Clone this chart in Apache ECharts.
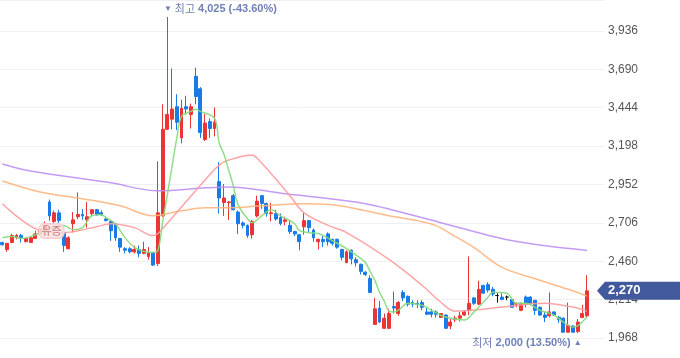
<!DOCTYPE html>
<html><head><meta charset="utf-8">
<script src="https://cdn.jsdelivr.net/npm/echarts@6/dist/echarts.min.js"></script>
<style>html,body{margin:0;padding:0;background:#fff}#c{width:680px;height:358px}</style>
</head><body><div id="c"></div>
<script>
// ---- data ----
const yTicks = [1968, 2214, 2460, 2706, 2952, 3198, 3444, 3690, 3936];
// [open, close, low, high]
const ohlc = [
[2580,2565,2560,2585],[2535,2575,2520,2575],[2580,2625,2575,2635],[2610,2625,2600,2635],[2625,2610,2580,2635],
[2585,2605,2580,2610],[2580,2610,2580,2620],[2605,2635,2605,2655],[2635,2665,2625,2680],[2660,2700,2650,2715],
[2840,2750,2720,2855],[2715,2770,2705,2785],[2770,2720,2705,2790],[2645,2560,2520,2655],[2540,2610,2535,2620],
[2700,2725,2645,2775],[2745,2760,2730,2900],[2760,2750,2725,2795],[2725,2745,2675,2840],[2765,2790,2750,2795],
[2790,2760,2750,2795],[2770,2760,2750,2785],[2730,2720,2715,2740],[2715,2655,2590,2725],[2700,2610,2590,2705],
[2605,2550,2520,2610],[2540,2530,2510,2550],[2540,2520,2510,2550],[2520,2535,2510,2560],[2535,2510,2485,2560],
[2510,2535,2505,2585],[2490,2515,2470,2550],[2515,2435,2430,2520],[2445,2770,2430,3100],[2750,3305,2745,3465],
[3305,3400,3300,4025],[3370,3435,3305,3695],[3450,3350,3300,3530],[3250,3440,3215,3495],[3450,3435,3400,3520],
[3400,3450,3310,3470],[3645,3515,3465,3700],[3565,3285,3250,3575],[3240,3345,3230,3405],[3355,3310,3250,3375],
[3310,3350,3260,3445],[2970,2865,2765,3095],[2835,2865,2750,2955],[2835,2840,2725,2845],[2880,2790,2785,2890],
[2775,2700,2635,2785],[2705,2690,2670,2715],[2690,2625,2610,2695],[2630,2715,2605,2725],[2750,2845,2740,2880],
[2880,2830,2795,2885],[2830,2765,2745,2835],[2765,2770,2715,2835],[2765,2730,2720,2790],[2740,2700,2690,2765],
[2715,2725,2690,2745],[2690,2650,2635,2720],[2650,2635,2620,2655],[2630,2585,2530,2635],[2680,2720,2630,2770],
[2720,2675,2645,2725],[2660,2610,2585,2670],[2585,2600,2535,2605],[2600,2585,2550,2620],[2635,2585,2560,2645],
[2600,2575,2560,2605],[2600,2550,2540,2605],[2535,2485,2465,2540],[2450,2520,2450,2530],[2530,2475,2440,2535],
[2470,2450,2425,2485],[2440,2395,2375,2445],[2390,2375,2365,2395],[2350,2260,2255,2370],[2055,2155,2055,2225],
[2160,2070,2065,2205],[2030,2095,2025,2125],[2030,2125,2025,2155],[2170,2160,2125,2265],[2125,2195,2110,2205],
[2260,2225,2205,2275],[2235,2185,2170,2240],[2195,2185,2165,2210],[2190,2185,2160,2210],[2195,2165,2145,2210],
[2135,2120,2115,2160],[2135,2120,2100,2155],[2135,2120,2100,2145],[2100,2125,2100,2125],[2115,2030,2025,2120],
[2045,2070,2025,2090],[2085,2095,2070,2110],[2095,2110,2075,2135],[2115,2135,2110,2145],[2145,2190,2115,2490],
[2225,2190,2180,2230],[2185,2280,2180,2335],[2305,2255,2255,2305],[2310,2275,2260,2325],[2280,2250,2235,2295],
[2240,2240,2195,2255],[2230,2215,2210,2255],[2230,2230,2210,2240],[2215,2165,2160,2215],[2185,2190,2165,2195],
[2145,2190,2140,2195],[2230,2185,2165,2240],[2230,2190,2180,2235],[2210,2145,2115,2210],[2165,2115,2110,2170],
[2115,2100,2070,2135],[2110,2135,2100,2260],[2135,2115,2110,2140],[2100,2085,2065,2110],[2095,2005,2005,2100],
[2005,2050,2005,2195],[2045,2005,2005,2050],[2010,2070,2000,2090],[2100,2125,2095,2180],[2110,2270,2100,2370]
];
// moving averages: [day index, value]
const ma5 = [[0,2611],[2,2618],[4,2605],[7,2630],[10,2669],[13,2688],[15,2662],[17,2675],[19,2751],[21,2758],[22,2739],
[24,2700],[26,2611],[28,2548],[30,2522],[32,2516],[33,2528],[34,2713],[35,2885],[36,3070],[37,3248],[38,3388],[40,3420],
[41,3433],[42,3420],[45,3375],[46,3216],[47,3146],[48,3044],[49,2942],[50,2821],[52,2732],[53,2707],[55,2751],[57,2790],
[59,2751],[62,2700],[63,2656],[65,2643],[67,2637],[70,2592],[73,2541],[76,2478],[77,2452],[78,2395],[79,2337],[80,2261],
[81,2204],[82,2140],[83,2134],[84,2146],[86,2191],[89,2178],[91,2146],[94,2102],[98,2083],[100,2134],[103,2229],[104,2261],
[107,2255],[109,2191],[111,2191],[114,2146],[117,2115],[119,2070],[121,2038],[122,2045],[124,2102]];
const ma20 = [[0,2828],[8,2656],[13,2643],[20,2681],[23,2700],[28,2675],[32,2624],[33,2637],[34,2669],[38,2808],[43,2981],
[46,3076],[48,3108],[53,3140],[54,3121],[58,2987],[61,2879],[64,2770],[69,2691],[73,2643],[82,2471],[89,2306],[93,2197],
[96,2140],[100,2147],[106,2166],[115,2191],[121,2166],[124,2140]];
const ma60 = [[0,2974],[8,2904],[17,2860],[25,2815],[32,2751],[34,2758],[38,2783],[43,2802],[48,2802],[55,2815],[64,2828],
[70,2821],[74,2802],[82,2751],[88,2720],[92,2688],[95,2637],[100,2548],[106,2420],[114,2338],[120,2280],[124,2236]];
const ma120 = [[0,3083],[6,3038],[23,2962],[33,2911],[43,2930],[48,2936],[60,2892],[64,2879],[77,2828],[93,2707],[108,2592],[124,2529]];
const eventIdx = 10, eventText = '유증';
const tailSlots = ['E1', 'E2', 'E3'];
const categories = ohlc.map((_, i) => 'D' + (i + 1)).concat(tailSlots);

// ---- derived ----
const highs = ohlc.map(d => d[3]), lows = ohlc.map(d => d[2]);
const hiVal = Math.max(...highs), hiIdx = highs.indexOf(hiVal);
const loVal = Math.min(...lows), loIdx = lows.indexOf(loVal);
const lastClose = ohlc[ohlc.length - 1][1];
const fmt = v => v.toLocaleString('en-US');
const pct = (a, b) => ((a - b) / b * 100).toFixed(2);
const hiText = fmt(hiVal) + ' (' + pct(lastClose, hiVal) + '%)';
const loText = fmt(loVal) + ' (' + pct(lastClose, loVal) + '%)';

const UP = '#ec3434', DOWN = '#1b7be6', LBL = '#6f80b6';
const KR = '"Noto Sans CJK KR", "Noto Sans", sans-serif';
const NUM = '"Liberation Sans", Arial, sans-serif';
const richLbl = {
  a: { fontSize: 8, color: LBL, fontFamily: NUM },
  t: { fontSize: 11, color: LBL, fontFamily: KR },
  b: { fontSize: 11, color: LBL, fontWeight: 'bold', fontFamily: NUM },
  s: { fontSize: 11, width: 3 }
};

const chart = echarts.init(document.getElementById('c'));
function maSeries(data, color) {
  return { type: 'line', data, smooth: 0.35, symbol: 'none', silent: true, z: 3,
    lineStyle: { color, width: 1.5, opacity: 0.9 } };
}
chart.setOption({
  animation: false,
  backgroundColor: '#fff',
  grid: { left: -1.4, right: 76.5, top: -2, bottom: 20 },
  xAxis: { type: 'category', data: categories, boundaryGap: true,
    axisLine: { show: false }, axisTick: { show: false }, axisLabel: { show: false }, splitLine: { show: false } },
  yAxis: { type: 'value', position: 'right', min: 1968, max: 4133.5, interval: 246,
    axisLine: { show: false }, axisTick: { show: false },
    splitLine: { lineStyle: { color: '#eef0f4', width: 1 } },
    axisLabel: { margin: 4.5, color: '#555', fontSize: 12, fontFamily: NUM,
      showMaxLabel: false, formatter: v => yTicks.includes(v) ? fmt(v) : '' } },
  series: [
    { type: 'candlestick', data: ohlc, barWidth: 3.4, z: 2,
      itemStyle: { color: UP, color0: DOWN, borderColor: UP, borderColor0: DOWN, borderColorDoji: '#111', borderWidth: 1 },
      markPoint: { symbol: 'circle', symbolSize: 0, animation: false,
        data: [
          { coord: [hiIdx, hiVal], label: { show: true, position: 'inside', align: 'left', verticalAlign: 'middle',
              offset: [-3.5, -8], formatter: '{a|▼}{s|}{t|최고}{s|}{b|' + hiText + '}', rich: richLbl } },
          { coord: [loIdx, loVal], label: { show: true, position: 'inside', align: 'right', verticalAlign: 'middle',
              offset: [4, 10], formatter: '{t|최저}{s|}{b|' + loText + '}{s|}{a|▲}', rich: richLbl } },
          { coord: [eventIdx, ohlc[eventIdx][2]], label: { show: true, position: 'inside', offset: [2, 10.5],
              formatter: eventText, fontSize: 11, color: '#c77a7c', fontFamily: KR,
              backgroundColor: 'rgba(251,222,222,0.75)', borderColor: '#f4cccc', borderWidth: 1,
              borderRadius: 5, padding: [2, 2, 1, 2] } }
        ] } },
    maSeries(ma120, '#bd90f4'),
    maSeries(ma60, '#ffb47c'),
    maSeries(ma20, '#ff9a9c'),
    maSeries(ma5, '#84da7c')
  ]
});

// current price tag positioned through the axes
const y = chart.convertToPixel({ yAxisIndex: 0 }, lastClose);
const x0 = chart.convertToPixel({ xAxisIndex: 0 }, 0), x1 = chart.convertToPixel({ xAxisIndex: 0 }, 1);
const xRight = chart.convertToPixel({ xAxisIndex: 0 }, categories.length - 1) + (x1 - x0) / 2;
const tip = xRight - 6.5;
chart.setOption({ graphic: [
  { type: 'polygon', z: 100, shape: { points: [[tip, y], [tip + 8, y - 9], [680, y - 9], [680, y + 9], [tip + 8, y + 9]] },
    style: { fill: '#42599b' } },
  { type: 'text', z: 101, x: tip + 11, y: y, style: { text: fmt(lastClose), fill: '#fff', fontSize: 13, fontWeight: 'bold',
    fontFamily: NUM, verticalAlign: 'middle' } }
] });
</script>
</body></html>
